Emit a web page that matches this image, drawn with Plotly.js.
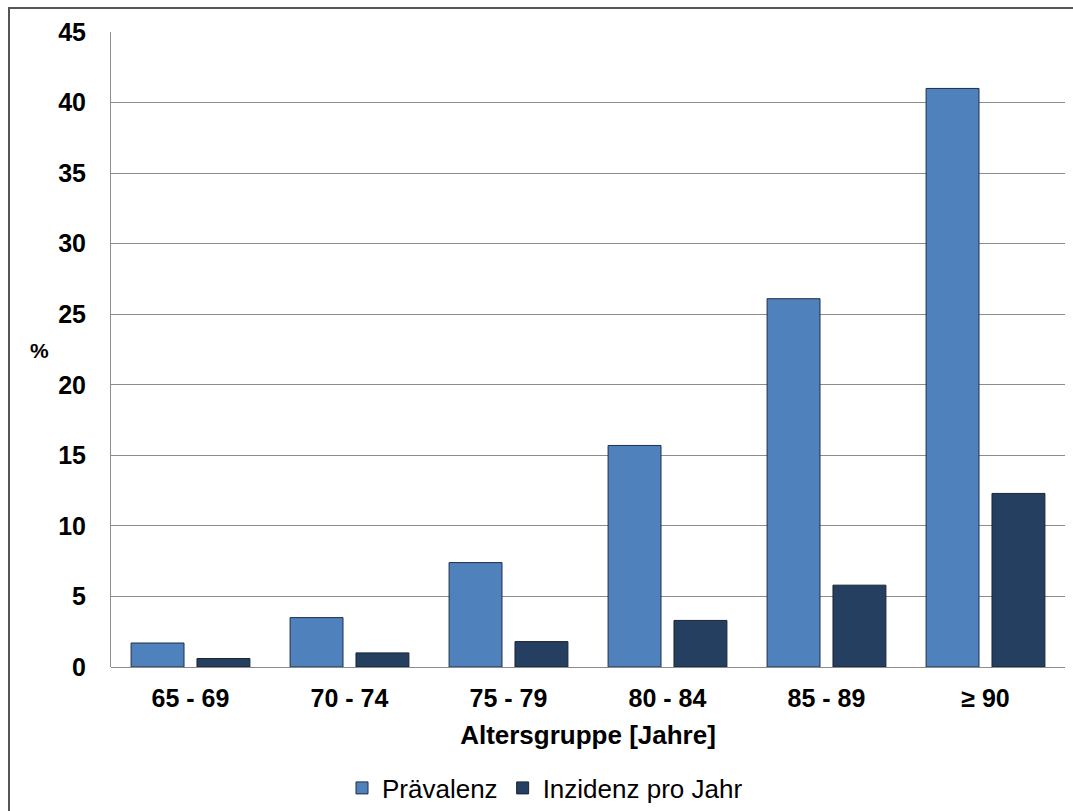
<!DOCTYPE html>
<html>
<head>
<meta charset="utf-8">
<script src="https://cdn.plot.ly/plotly-3.0.1.min.js"></script>
<style>html,body{margin:0;padding:0;background:#fff;}#chart{width:1073px;height:811px;}</style>
</head>
<body>
<div id="chart"></div>
<script>
const categories = ["65 - 69", "70 - 74", "75 - 79", "80 - 84", "85 - 89", "≥ 90"];
const praevalenz = [1.7, 3.5, 7.4, 15.7, 26.1, 41.0];
const inzidenz = [0.6, 1.0, 1.8, 3.3, 5.8, 12.3];
const yTicks = [0, 5, 10, 15, 20, 25, 30, 35, 40, 45];

const W = 1073, H = 811, mL = 111, mR = 8, mT = 32, mB = 144;
const pw = W - mL - mR, ph = H - mT - mB;
const px = v => (v - mL) / pw;
const py = v => (H - mB - v) / ph;

const font = "Liberation Sans, Arial, sans-serif";

const data = [
  {type: "bar", name: "Prävalenz", x: categories, y: praevalenz,
   marker: {color: "#4F81BD", line: {color: "#1F2F45", width: 1}}},
  {type: "bar", name: "Inzidenz pro Jahr", x: categories, y: inzidenz,
   marker: {color: "#243F60", line: {color: "#1A2433", width: 1}}}
];

const layout = {
  width: W, height: H,
  margin: {l: mL, r: mR, t: mT, b: mB, autoexpand: false},
  paper_bgcolor: "#fff", plot_bgcolor: "#fff",
  barmode: "group", bargap: 0.171, bargroupgap: 0.197,
  font: {family: font, color: "#000"},
  showlegend: true,
  legend: {orientation: "h", x: px(545), xanchor: "center", y: py(788), yanchor: "middle",
           font: {size: 26, family: font, color: "#000"}, itemwidth: 30, traceorder: "normal"},
  xaxis: {type: "category", automargin: false, tickfont: {size: 25, family: font, color: "#000", weight: "bold"},
          showline: false, showgrid: false, ticks: "", ticklabelstandoff: 14,
          title: {text: "<b>Altersgruppe [Jahre]</b>", font: {size: 26, family: font, color: "#000"}, standoff: 14}},
  yaxis: {range: [0, 45], automargin: false, tickvals: yTicks, ticktext: yTicks.map(String),
          tickfont: {size: 25, family: font, color: "#000", weight: "bold"},
          showgrid: true, gridcolor: "#8c8c8c", gridwidth: 1,
          showline: true, linecolor: "#8c8c8c", linewidth: 1,
          zeroline: true, zerolinecolor: "#8c8c8c", zerolinewidth: 1,
          ticks: "", ticklabelstandoff: 19},
  annotations: [
    {text: "<b>%</b>", xref: "paper", yref: "paper", x: px(39), y: py(350),
     xanchor: "center", yanchor: "middle",
     showarrow: false, font: {size: 21, family: font, color: "#000"}}
  ],
  shapes: [
    {type: "rect", xref: "paper", yref: "paper", x0: px(9), x1: px(1085), y0: py(830), y1: py(8),
     line: {color: "#555", width: 2}, fillcolor: "rgba(0,0,0,0)", layer: "above"}
  ]
};

Plotly.newPlot("chart", data, layout, {displayModeBar: false, staticPlot: true});
</script>
</body>
</html>
